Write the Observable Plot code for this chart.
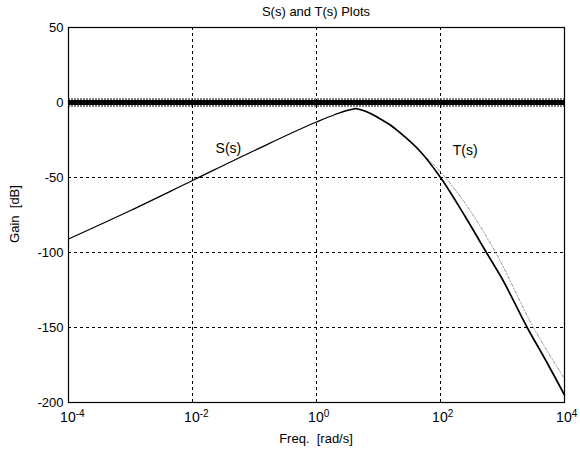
<!DOCTYPE html>
<html><head><meta charset="utf-8">
<script src="https://cdn.jsdelivr.net/npm/d3@7"></script>
<script src="https://cdn.jsdelivr.net/npm/@observablehq/plot@0.6"></script>
<style>
body{margin:0;background:#fff}
#chart svg{font-family:"Liberation Sans",Arial,sans-serif;background:#fff}
</style>
</head><body><div id="chart"></div><script>
// Data
const titleText = "S(s) and T(s) Plots";
const xLabel = "Freq.  [rad/s]";
const yLabel = "Gain  [dB]";
const xTicks = [1e-4, 1e-2, 1, 1e2, 1e4];
const xTickExp = ["-4", "-2", "0", "2", "4"];
const yTicks = [50, 0, -50, -100, -150, -200];

// Thick 0 dB line (S + T)
const freqSum = [1e-4, 1e4];
const gainSum = [0, 0];

// S(s) rising branch (solid)
const freqS = [1e-4, 1e-3, 1e-2, 1e-1, 1, 2, 3, 4.3];
const gainS = [-91, -72, -52, -32, -13, -8, -5.5, -4];

// T(s) falling branch (solid)
const freqT = [4.3, 6.3, 8.9, 10.7, 15.5, 22, 48, 100, 250, 550, 1000, 2500, 5000, 10000];
const gainT = [-4, -6, -9, -11, -15, -20, -33, -50, -76, -100, -118, -150, -172, -195];

// Thin dotted curve (bound)
const freqB = [4.3, 6.3, 8.9, 10.7, 15.5, 22, 48, 120, 776, 3160, 10000];
const gainB = [-4, -6, -9, -11, -15, -20, -33, -50, -100, -150, -184];

// Curve labels
const labelNames = ["S(s)", "T(s)"];
const labelFreq = [0.038, 250];
const labelGain = [-31, -32];

const zip = (xs, ys) => xs.map((x, i) => ({x, y: ys[i]}));
const sum = zip(freqSum, gainSum);
const sData = zip(freqS, gainS);
const tData = zip(freqT, gainT);
const bData = zip(freqB, gainB);
const labels = labelNames.map((t, i) => ({t, x: labelFreq[i], y: labelGain[i]}));

const W = 580, H = 452;
const chart = Plot.plot({
  width: W, height: H,
  marginLeft: 68, marginRight: 16, marginTop: 27, marginBottom: 50,
  style: {fontSize: "12px", color: "#000", background: "#fff"},
  x: {type: "log", domain: [1e-4, 1e4]},
  y: {domain: [-200, 50]},
  marks: [
    Plot.gridX(xTicks.slice(1, -1), {stroke: "#000", strokeOpacity: 1, strokeDasharray: "3,3", strokeWidth: 1}),
    Plot.gridY(yTicks.slice(1, -1), {stroke: "#000", strokeOpacity: 1, strokeDasharray: "3,3", strokeWidth: 1}),
    Plot.line(bData, {x: "x", y: "y", stroke: "#888", strokeWidth: 0.9, strokeDasharray: "3,2,1,2", curve: "monotone-x"}),
    Plot.line(sData, {x: "x", y: "y", stroke: "#000", strokeWidth: 1.3, curve: "monotone-x"}),
    Plot.line(tData, {x: "x", y: "y", stroke: "#000", strokeWidth: 1.7, curve: "monotone-x"}),
    Plot.line(sum, {x: "x", y: "y", stroke: "#000", strokeWidth: 5, strokeLinecap: "butt"}),
    Plot.line(sum, {x: "x", y: "y", stroke: "#000", strokeWidth: 9, strokeDasharray: "1,2", strokeLinecap: "butt"}),
    Plot.text(labels, {x: "x", y: "y", text: "t", fontSize: 14, fill: "#000"}),
    Plot.frame({stroke: "#000", strokeWidth: 1.2}),
    Plot.axisX(xTicks, {tickFormat: d => "10", tickSize: 0, tickPadding: 10, fontSize: 14, label: null}),
    Plot.axisY(yTicks, {tickFormat: d => String(d), tickSize: 0, tickPadding: 5, fontSize: 13, label: null})
  ]
});

const wrap = document.createElement("div");
wrap.style.position = "relative";
wrap.style.width = W + "px";
wrap.appendChild(chart);
document.getElementById("chart").appendChild(wrap);

const svg = d3.select(chart);
// add superscript exponents to the x tick labels
svg.selectAll('g[aria-label="x-axis tick label"] text').each(function(d, i) {
  const t = d3.select(this);
  t.attr("text-anchor", "start").attr("dx", "-0.6em");
  t.append("tspan").attr("dy", "-0.5em").attr("font-size", 10).text(xTickExp[i]);
});
svg.append("text").attr("x", 316).attr("y", 16).attr("text-anchor", "middle")
  .attr("font-size", 13).attr("fill", "#000").text(titleText);
svg.append("text").attr("x", 316).attr("y", 443).attr("text-anchor", "middle")
  .attr("font-size", 13).attr("fill", "#000").text(xLabel);
svg.append("text").attr("transform", "translate(19,214) rotate(-90)").attr("text-anchor", "middle")
  .attr("font-size", 13).attr("fill", "#000").text(yLabel);
</script></body></html>
